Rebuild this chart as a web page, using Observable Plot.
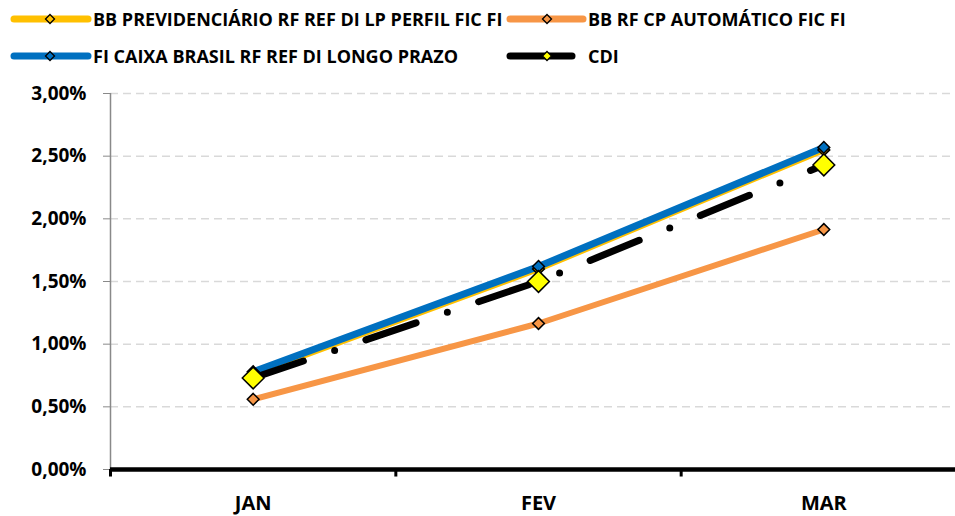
<!DOCTYPE html>
<html><head><meta charset="utf-8">
<script src="https://cdn.jsdelivr.net/npm/d3@7"></script>
<script src="https://cdn.jsdelivr.net/npm/@observablehq/plot@0.6"></script>
<style>
body{margin:0;background:#fff;font-family:"Open Sans",sans-serif;}
#legend{display:block;}
#chart svg{display:block;}
.lt{font-family:"Open Sans",sans-serif;font-weight:700;font-size:18px;font-stretch:97%;fill:#000;}
</style></head><body>
<svg id="legend" width="955" height="75"></svg>
<div id="chart"></div>
<script>
const months = ["JAN", "FEV", "MAR"];
const seriesNames = ["BB PREVIDENCIÁRIO RF REF DI LP PERFIL FIC FI", "BB RF CP AUTOMÁTICO FIC FI", "FI CAIXA BRASIL RF REF DI LONGO PRAZO", "CDI"];
const bbPrevidenciario = [0.76, 1.60, 2.55];
const bbRfCpAutomatico = [0.56, 1.165, 1.915];
const caixaBrasil = [0.78, 1.62, 2.57];
const cdi = [0.73, 1.50, 2.43];
const yTicks = [0, 0.5, 1, 1.5, 2, 2.5, 3];
const colors = ["#FFC000", "#F79646", "#0070C0", "#000000"];

const seriesValues = [bbPrevidenciario, bbRfCpAutomatico, caixaBrasil, cdi];
const rows = seriesValues.map((vals, s) => vals.map((v, i) => ({series: seriesNames[s], s, x: i + 0.5, y: v})));

const fmt = d => d.toFixed(2).replace(".", ",") + "%";
const font = "'Open Sans', sans-serif";

// legend
const leg = d3.select("#legend");
const legendItems = [
  {x0: 14, x1: 88, mx: 50, tx: 93, cy: 19, s: 0},
  {x0: 510, x1: 583, mx: 547, tx: 588, cy: 19, s: 1},
  {x0: 14, x1: 88, mx: 50, tx: 93, cy: 56, s: 2},
  {x0: 510, x1: 572, mx: 547, tx: 588, cy: 56, s: 3}
];
const diamond = (cx, cy, h) => `M${cx},${cy - h}L${cx + h},${cy}L${cx},${cy + h}L${cx - h},${cy}Z`;
for (const it of legendItems) {
  leg.append("line").attr("x1", it.x0).attr("x2", it.x1).attr("y1", it.cy).attr("y2", it.cy)
    .attr("stroke", colors[it.s]).attr("stroke-width", 7).attr("stroke-linecap", "round");
  leg.append("path").attr("d", diamond(it.mx, it.cy, 4.5))
    .attr("fill", it.s === 3 ? "#FFFF00" : colors[it.s]).attr("stroke", "#000").attr("stroke-width", 1.3);
  leg.append("text").attr("class", "lt").attr("x", it.tx).attr("y", it.cy + 7).text(seriesNames[it.s]);
}

const chart = Plot.plot({
  width: 955,
  height: 441,
  marginTop: 18,
  marginBottom: 47,
  marginLeft: 110,
  marginRight: 0,
  style: {fontFamily: font, background: "#fff"},
  x: {type: "linear", domain: [0, 3], range: [110, 966]},
  y: {type: "linear", domain: [0, 3]},
  marks: [
    Plot.ruleY(yTicks.slice(1), {stroke: "#D9D9D9", strokeWidth: 1.5, strokeDasharray: "8,5"}),
    Plot.ruleX([0], {y1: 0, y2: 3, stroke: "#898989", strokeWidth: 1.5}),
    Plot.axisY({ticks: yTicks, label: null, tickSize: 7, tickPadding: 17, stroke: "#898989", fill: "#000", tickFormat: fmt, fontSize: 19, fontWeight: "bold", style: {letterSpacing: "0.6px"}}),
    Plot.axisX({ticks: [0.5, 1.5, 2.5], label: null, tickSize: 0, tickPadding: 26, tickFormat: d => months[Math.floor(d)], fontSize: 20, fontWeight: "bold", fill: "#000", style: {letterSpacing: "0.5px"}}),
    Plot.ruleY([0], {stroke: "#000", strokeWidth: 4.5}),
    Plot.ruleX([0, 1, 2], {y1: 0, y2: -0.06, stroke: "#000", strokeWidth: 3}),
    Plot.line(rows[0], {x: "x", y: "y", stroke: colors[0], strokeWidth: 6}),
    Plot.line(rows[1], {x: "x", y: "y", stroke: colors[1], strokeWidth: 6}),
    Plot.line(rows[2], {x: "x", y: "y", stroke: colors[2], strokeWidth: 7}),
    Plot.line(rows[3], {x: "x", y: "y", stroke: colors[3], strokeWidth: 7, strokeDasharray: "53,33,0,33", strokeLinecap: "round"}),
    Plot.dot(rows[0], {x: "x", y: "y", symbol: "diamond2", r: 5.3, fill: colors[0], stroke: "#000", strokeWidth: 1.5}),
    Plot.dot(rows[1], {x: "x", y: "y", symbol: "diamond2", r: 5.3, fill: colors[1], stroke: "#000", strokeWidth: 1.5}),
    Plot.dot(rows[2], {x: "x", y: "y", symbol: "diamond2", r: 5.3, fill: colors[2], stroke: "#000", strokeWidth: 1.5}),
    Plot.dot(rows[3], {x: "x", y: "y", symbol: "diamond2", r: 9.8, fill: "#FFFF00", stroke: "#000", strokeWidth: 1.5})
  ]
});
document.getElementById("chart").appendChild(chart);
</script>
</body></html>
